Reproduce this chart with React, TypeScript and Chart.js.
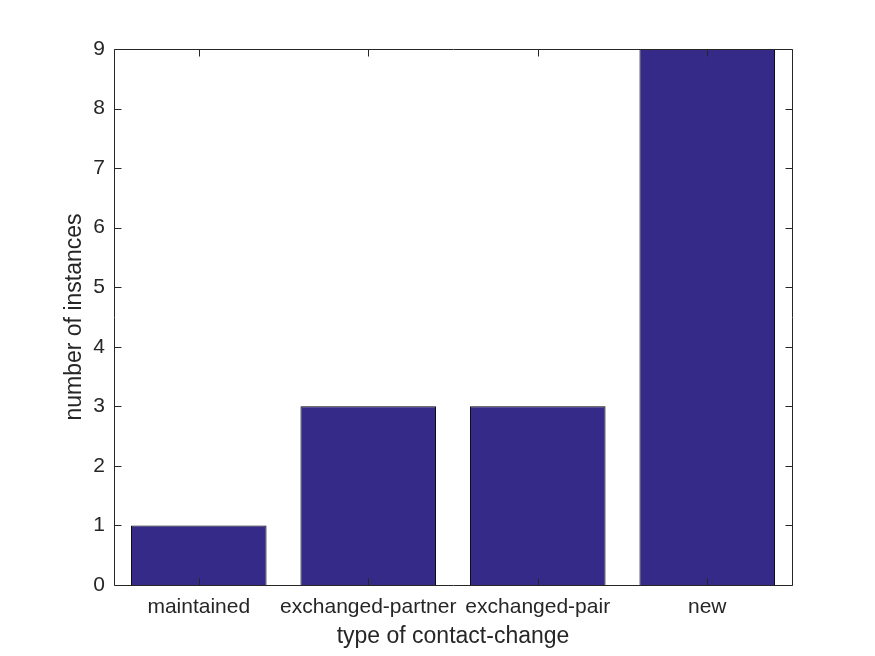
import React, { useEffect, useRef } from "react";
import { Chart, registerables } from "chart.js";

Chart.register(...registerables);

const categories = ["maintained", "exchanged-partner", "exchanged-pair", "new"];
const counts = [1, 3, 3, 9];
const yTicks = [0, 1, 2, 3, 4, 5, 6, 7, 8, 9];
const xTitle = "type of contact-change";
const yTitle = "number of instances";

const FONT = "'Liberation Sans', Arial, Helvetica, sans-serif";
const TEXT = "#262626";

const framePlugin = {
  id: "matlabFrame",
  afterDatasetsDraw(chart: any) {
    const { ctx, chartArea: a, scales } = chart;
    const x = scales.x;
    const y = scales.y;
    ctx.save();
    ctx.strokeStyle = TEXT;
    ctx.lineWidth = 1;
    const L = Math.round(a.left) + 0.5;
    const R = Math.round(a.right) + 0.5;
    const T = Math.round(a.top) + 0.5;
    const B = Math.round(a.bottom) + 0.5;
    ctx.beginPath();
    ctx.rect(L, T, R - L, B - T);
    ctx.stroke();
    const tl = 7;
    ctx.beginPath();
    yTicks.forEach((v) => {
      const py = Math.round(y.getPixelForValue(v)) + 0.5;
      ctx.moveTo(L, py);
      ctx.lineTo(L + tl, py);
      ctx.moveTo(R, py);
      ctx.lineTo(R - tl, py);
    });
    categories.forEach((_, i) => {
      const px = Math.round(x.getPixelForValue(i)) + 0.5;
      ctx.moveTo(px, B);
      ctx.lineTo(px, B - tl);
      ctx.moveTo(px, T);
      ctx.lineTo(px, T + tl);
    });
    ctx.stroke();
    ctx.fillStyle = TEXT;
    ctx.font = `23px ${FONT}`;
    ctx.textAlign = "center";
    ctx.textBaseline = "middle";
    ctx.fillText(xTitle, (a.left + a.right) / 2, 637);
    ctx.save();
    ctx.translate(75, (a.top + a.bottom) / 2);
    ctx.rotate(-Math.PI / 2);
    ctx.fillText(yTitle, 0, 0);
    ctx.restore();
    ctx.restore();
  },
};

export default function App() {
  const ref = useRef<HTMLCanvasElement | null>(null);
  useEffect(() => {
    document.body.style.margin = "0";
    const chart = new Chart(ref.current as HTMLCanvasElement, {
      type: "bar",
      data: {
        labels: categories,
        datasets: [
          {
            data: counts,
            backgroundColor: "#352a87",
            borderColor: "#000000",
            borderWidth: 1,
            barPercentage: 0.8,
            categoryPercentage: 1,
          },
        ],
      },
      options: {
        responsive: false,
        animation: false,
        layout: { padding: { left: 0, top: 49, right: 83, bottom: 0 } },
        plugins: { legend: { display: false }, tooltip: { enabled: false } },
        scales: {
          x: {
            grid: { display: false, drawTicks: false },
            border: { display: false },
            ticks: { color: TEXT, font: { family: FONT, size: 21 }, padding: 10, maxRotation: 0, autoSkip: false },
            afterFit: (s: any) => {
              s.height = 71;
            },
          },
          y: {
            min: 0,
            max: 9,
            grid: { display: false, drawTicks: false },
            border: { display: false },
            ticks: {
              color: TEXT,
              font: { family: FONT, size: 21 },
              padding: 9,
              stepSize: 1,
              callback: (v: any) => (yTicks.includes(v) ? String(v) : ""),
            },
            afterFit: (s: any) => {
              s.width = 114;
            },
          },
        },
      },
      plugins: [framePlugin],
    });
    return () => chart.destroy();
  }, []);
  return <canvas ref={ref} width={875} height={656} style={{ display: "block" }} />;
}
